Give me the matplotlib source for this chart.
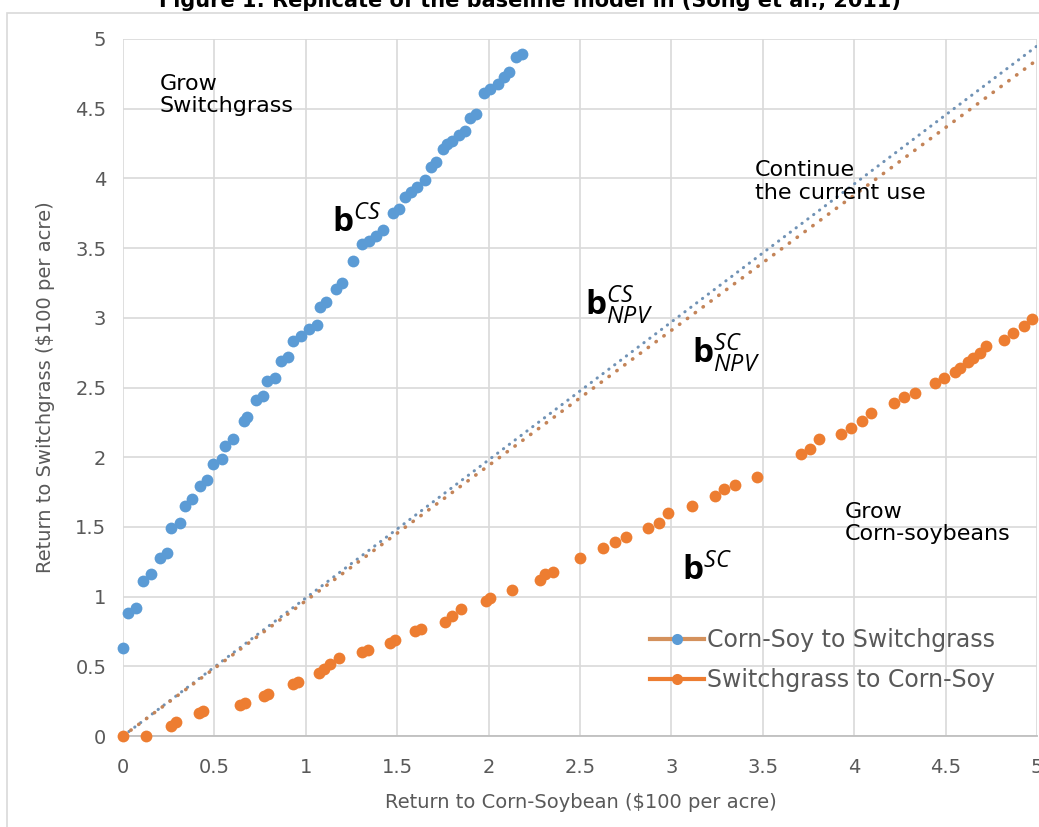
import matplotlib
matplotlib.use("Agg")
import matplotlib.pyplot as plt
from matplotlib.lines import Line2D
from matplotlib.patches import Rectangle

# ---------------- data ----------------
title = "Figure 1: Replicate of the baseline model in (Song et al., 2011)"
x_label = "Return to Corn-Soybean ($100 per acre)"
y_label = "Return to Switchgrass ($100 per acre)"
series_names = ["Corn-Soy to Switchgrass", "Switchgrass to Corn-Soy"]

cs_x = [0.0, 0.03, 0.07, 0.11, 0.155, 0.20, 0.24, 0.26, 0.31, 0.34, 0.38, 0.42, 0.46,
        0.49, 0.54, 0.56, 0.60, 0.66, 0.68, 0.73, 0.765, 0.79, 0.83, 0.865, 0.90,
        0.93, 0.975, 1.02, 1.06, 1.08, 1.11, 1.166, 1.20, 1.257, 1.31, 1.348, 1.385,
        1.42, 1.475, 1.51, 1.54, 1.575, 1.61, 1.65, 1.685, 1.71, 1.75, 1.775, 1.80,
        1.84, 1.87, 1.90, 1.93, 1.975, 2.01, 2.05, 2.085, 2.11, 2.15, 2.18]
cs_y = [0.63, 0.88, 0.92, 1.11, 1.16, 1.28, 1.31, 1.49, 1.53, 1.65, 1.70, 1.79, 1.84,
        1.95, 1.99, 2.08, 2.13, 2.26, 2.29, 2.41, 2.44, 2.55, 2.57, 2.69, 2.72,
        2.83, 2.87, 2.92, 2.95, 3.08, 3.11, 3.21, 3.25, 3.41, 3.53, 3.55, 3.59,
        3.63, 3.75, 3.78, 3.87, 3.90, 3.94, 3.99, 4.08, 4.12, 4.21, 4.25, 4.27,
        4.31, 4.34, 4.43, 4.46, 4.61, 4.64, 4.68, 4.73, 4.76, 4.87, 4.89]

sc_x = [0.0, 0.125, 0.26, 0.29, 0.415, 0.44, 0.64, 0.667, 0.77, 0.795, 0.93, 0.958,
        1.07, 1.10, 1.13, 1.18, 1.31, 1.34, 1.46, 1.49, 1.60, 1.63, 1.76, 1.80, 1.85,
        1.985, 2.01, 2.13, 2.28, 2.31, 2.355, 2.50, 2.627, 2.69, 2.75, 2.87, 2.93,
        2.98, 3.11, 3.24, 3.29, 3.35, 3.47, 3.71, 3.76, 3.81, 3.93, 3.98, 4.04, 4.09,
        4.22, 4.27, 4.33, 4.44, 4.49, 4.55, 4.58, 4.62, 4.65, 4.69, 4.72, 4.82, 4.87,
        4.93, 4.97]
sc_y = [0.0, 0.0, 0.07, 0.10, 0.166, 0.18, 0.22, 0.235, 0.29, 0.304, 0.37, 0.385,
        0.45, 0.48, 0.52, 0.56, 0.60, 0.62, 0.67, 0.69, 0.75, 0.77, 0.82, 0.86, 0.91,
        0.97, 0.99, 1.05, 1.12, 1.16, 1.18, 1.28, 1.35, 1.39, 1.43, 1.49, 1.53,
        1.60, 1.65, 1.72, 1.77, 1.80, 1.86, 2.02, 2.06, 2.13, 2.17, 2.21, 2.26, 2.32,
        2.39, 2.43, 2.46, 2.53, 2.57, 2.61, 2.64, 2.68, 2.71, 2.75, 2.80, 2.84, 2.89,
        2.94, 2.99]

npv_x = [0.0, 5.0]
npv_cs_y = [0.0, 4.95]
npv_sc_y = [0.0, 4.85]

ticks = [0, 0.5, 1, 1.5, 2, 2.5, 3, 3.5, 4, 4.5, 5]
tick_labels = ["0", "0.5", "1", "1.5", "2", "2.5", "3", "3.5", "4", "4.5", "5"]

# ---------------- style ----------------
BLUE = "#5b9bd5"
ORANGE = "#ed7d31"
GRID = "#d9d9d9"
TXT = "#595959"
NARROW = ["Liberation Sans Narrow", "DejaVu Sans"]

plt.rcParams["mathtext.fontset"] = "custom"
plt.rcParams["mathtext.bf"] = "Open Sans:bold"
plt.rcParams["mathtext.it"] = "Open Sans:italic"
plt.rcParams["mathtext.rm"] = "Open Sans"

W, H = 1039, 827
fig = plt.figure(figsize=(W / 100, H / 100), dpi=100)
ax = fig.add_axes([123 / W, 1 - 736 / H, 914 / W, 697 / H])

# outer chart-area border (left and top edges visible)
top_frac = 1 - 13 / H
fig.add_artist(Rectangle((7 / W, -0.05), 1.1, top_frac + 0.05,
                         transform=fig.transFigure, fill=False,
                         edgecolor=GRID, linewidth=1.2))

fig.text(0.51, 1 - 7 / H, title, ha="center", va="baseline",
         fontsize=15, fontweight="bold", family="DejaVu Sans")

ax.set_xlim(0, 5)
ax.set_ylim(0, 5)
ax.set_xticks(ticks)
ax.set_yticks(ticks)
ax.set_xticklabels(tick_labels)
ax.set_yticklabels(tick_labels)
for lab in ax.get_xticklabels() + ax.get_yticklabels():
    lab.set_family(NARROW)
    lab.set_fontsize(14)
    lab.set_color(TXT)
ax.tick_params(axis="x", length=0, pad=16)
ax.tick_params(axis="y", length=0, pad=12)
ax.grid(True, color=GRID, linewidth=1.2)
ax.set_axisbelow(True)
for s in ["top", "right", "left"]:
    ax.spines[s].set_visible(False)
ax.spines["bottom"].set_color("#bfbfbf")
ax.spines["bottom"].set_linewidth(1.3)

ax.set_xlabel(x_label, family=NARROW, fontsize=14, color=TXT)
ax.set_ylabel(y_label, family=NARROW, fontsize=14, color=TXT)
ax.xaxis.set_label_coords(0.501, -0.082)
ax.yaxis.set_label_coords(-0.074, 0.5)

# NPV dotted lines
ax.plot(npv_x, npv_cs_y, color="#7092b5", linewidth=2.2, linestyle=(0, (0.1, 2.3)),
        dash_capstyle="round", zorder=2)
ax.plot(npv_x, npv_sc_y, color="#c48458", linewidth=2.6, linestyle=(0, (0.1, 2.6)),
        dash_capstyle="round", zorder=2)

# series (markers)
ax.plot(cs_x, cs_y, linestyle="none", marker="o", markersize=8.5, color=BLUE,
        markeredgewidth=0, zorder=3, clip_on=False)
ax.plot(sc_x, sc_y, linestyle="none", marker="o", markersize=8.5, color=ORANGE,
        markeredgewidth=0, zorder=3, clip_on=False)

# region labels
ax.text(0.2, 4.75, "Grow\nSwitchgrass", fontsize=16, family="DejaVu Sans",
        ha="left", va="top", linespacing=1.15)
ax.text(3.457, 4.13, "Continue\nthe current use", fontsize=16, family="DejaVu Sans",
        ha="left", va="top", linespacing=1.15)
ax.text(3.95, 1.68, "Grow\nCorn-soybeans", fontsize=16, family="DejaVu Sans",
        ha="left", va="top", linespacing=1.15)

# b labels
ax.text(1.143, 3.615, r"$\mathbf{b}^{\mathit{CS}}$", fontsize=24, ha="left", va="baseline")
ax.text(2.527, 3.02, r"$\mathbf{b}^{\mathit{CS}}_{\mathit{NPV}}$", fontsize=24,
        ha="left", va="baseline")
ax.text(3.11, 2.68, r"$\mathbf{b}^{\mathit{SC}}_{\mathit{NPV}}$", fontsize=24,
        ha="left", va="baseline")
ax.text(3.06, 1.12, r"$\mathbf{b}^{\mathit{SC}}$", fontsize=24, ha="left", va="baseline")

# legend
handles = [
    Line2D([], [], color="#d4915c", linewidth=3, marker="o", markersize=8,
           markerfacecolor=BLUE, markeredgewidth=0),
    Line2D([], [], color=ORANGE, linewidth=3, marker="o", markersize=8,
           markerfacecolor=ORANGE, markeredgewidth=0),
]
leg = ax.legend(handles, series_names, loc="upper left",
                bbox_to_anchor=((650 - 123) / 914, (736 - 628) / 697),
                frameon=False, borderpad=0, borderaxespad=0, handlelength=2.3,
                handletextpad=0.1, labelspacing=0.68,
                prop={"family": NARROW, "size": 17})
for t in leg.get_texts():
    t.set_color(TXT)

fig.savefig("out.png", dpi=100)
